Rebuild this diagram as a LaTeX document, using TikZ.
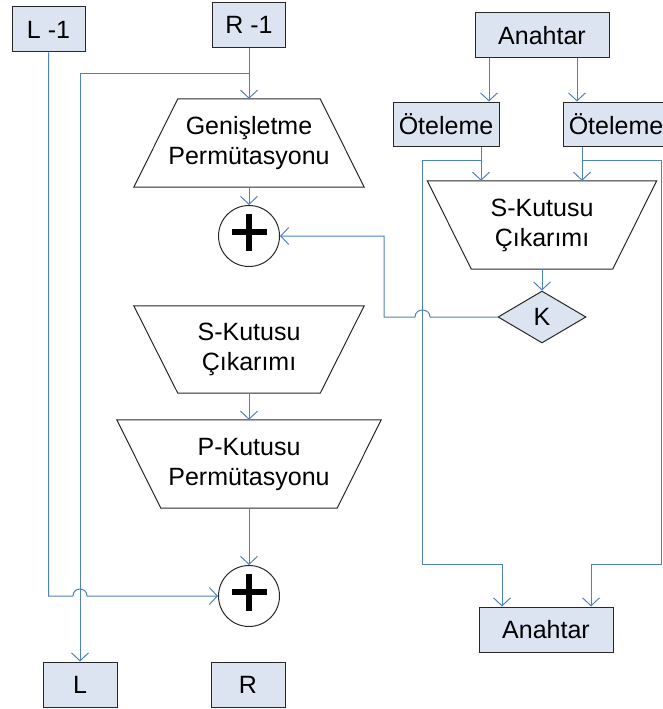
\documentclass[tikz,border=0pt]{standalone}
\usepackage{fontspec}
\setmainfont{Liberation Sans}
\usetikzlibrary{arrows.meta,shapes.geometric,calc}
\definecolor{wire}{RGB}{79,129,189}
\definecolor{boxfill}{RGB}{220,228,242}
\definecolor{edge}{RGB}{40,40,40}
\begin{document}
\begin{tikzpicture}[x=1pt,y=-1pt,
  font=\fontsize{25}{30}\selectfont,
  wire/.style={draw=wire, line width=1pt},
  arr/.style={wire, -{Straight Barb[length=8pt,width=17pt]}},
  keybox/.style={draw=edge, fill=boxfill, line width=1pt, rectangle,
    minimum height=45pt, inner sep=0pt},
  trapbody/.style={rectangle, draw=none, align=center, inner sep=0pt},
  outline/.style={draw=edge, line width=1pt},
  xorcirc/.style={circle, draw=edge, line width=1pt, minimum size=61pt, inner sep=0pt},
  plusbar/.style={line width=5.5pt, line cap=butt},
  keydiam/.style={diamond, draw=edge, fill=boxfill, line width=1pt, inner sep=0pt,
    minimum width=88pt, minimum height=52pt}]

\useasboundingbox (0,0) rectangle (663,709);

% ---------- left column: one Feistel round ----------
\node[keybox, minimum width=73pt] (L1) at (48.5,29.5) {L -1};
\node[keybox, minimum width=73pt] (R1) at (249,25) {R -1};

\node[trapbody, minimum width=230pt, minimum height=88pt] (gen) at (249,143)
  {Genişletme\\Permütasyonu};
\draw[outline] ([xshift=44pt]gen.north west) -- ([xshift=-44pt]gen.north east)
  -- (gen.south east) -- (gen.south west) -- cycle;

\node[xorcirc] (xor1) at (249,236) {};
\draw[plusbar] ($(xor1.center)+(-17.5,-4)$) -- ($(xor1.center)+(17.5,-4)$);
\draw[plusbar] ($(xor1.center)+(0,-22.5)$) -- ($(xor1.center)+(0,14.5)$);

\node[trapbody, minimum width=230pt, minimum height=87pt] (sbl) at (249,349.5)
  {S-Kutusu\\Çıkarımı};
\draw[outline] (sbl.north west) -- (sbl.north east)
  -- ([xshift=-44pt]sbl.south east) -- ([xshift=44pt]sbl.south west) -- cycle;

\node[trapbody, minimum width=264pt, minimum height=88pt] (pbox) at (249,464)
  {P-Kutusu\\Permütasyonu};
\draw[outline] (pbox.north west) -- (pbox.north east)
  -- ([xshift=-44pt]pbox.south east) -- ([xshift=44pt]pbox.south west) -- cycle;

\node[xorcirc] (xor2) at (249,596) {};
\draw[plusbar] ($(xor2.center)+(-17.5,-4)$) -- ($(xor2.center)+(17.5,-4)$);
\draw[plusbar] ($(xor2.center)+(0,-22.5)$) -- ($(xor2.center)+(0,14.5)$);

\node[keybox, minimum width=74pt] (L) at (80,684.5) {L};
\node[keybox, minimum width=74pt] (R) at (248,684.5) {R};

% ---------- right column: key schedule ----------
\node[keybox, minimum width=134pt] (key) at (542,35.5) {Anahtar};
\node[keybox, minimum width=106pt, minimum height=44pt] (ot1) at (446,124) {Öteleme};
\node[keybox, minimum width=106pt, minimum height=44pt] (ot2) at (616,124) {Öteleme};

\node[trapbody, minimum width=229pt, minimum height=88pt] (sbr) at (542,225)
  {S-Kutusu\\Çıkarımı};
\draw[outline] (sbr.north west) -- (sbr.north east)
  -- ([xshift=-44pt]sbr.south east) -- ([xshift=44pt]sbr.south west) -- cycle;

\node[keydiam] (K) at (542,317) {K};
\node[keybox, minimum width=134pt] (keyout) at (546,629.5) {Anahtar};

% ---------- routing points ----------
\coordinate (rsplit) at (249,73);
\coordinate (jl) at (73,596);
\coordinate (jr) at (87,596);
\coordinate (kj1) at (430,317);
\coordinate (kj2) at (415,317);
\coordinate (kturn) at (384,317);
\coordinate (b1) at (481,160);
\coordinate (c1) at (422,564);
\coordinate (b2) at (582,160);
\coordinate (c2) at (661.5,564);

% ---------- connectors, left ----------
\draw[arr] (R1.south) -- (gen.north);
\draw[arr] (rsplit) -| (L.north);
\draw[arr] (gen.south) -- (xor1.north);
\draw[arr] (sbl.south) -- (pbox.north);
\draw[arr] (pbox.south) -- (xor2.north);
\draw[arr] (L1.south) |- (jl) .. controls +(0,-9.3) and +(0,-9.3) .. (jr) -- (xor2.west);

% ---------- connectors, right ----------
\draw[arr] ([xshift=-53pt]key.south) -- ([xshift=-53pt]key.south |- ot1.north);
\draw[arr] ([xshift=35pt]key.south) -- ([xshift=35pt]key.south |- ot2.north);
\draw[arr] ([xshift=35pt]ot1.south) -- ([xshift=35pt]ot1.south |- sbr.north);
\draw[arr] ([xshift=-34pt]ot2.south) -- ([xshift=-34pt]ot2.south |- sbr.north);
\draw[arr] (b1) -| (c1) -| ([xshift=-44pt]keyout.north);
\draw[arr] (b2) -| (c2) -| ([xshift=45pt]keyout.north);
\draw[arr] (sbr.south) -- (K.north);
\draw[arr] (K.west) -- (kj1) .. controls +(0,-9.3) and +(0,-9.3) .. (kj2) -- (kturn) |- (xor1.east);

\end{tikzpicture}
\end{document}
